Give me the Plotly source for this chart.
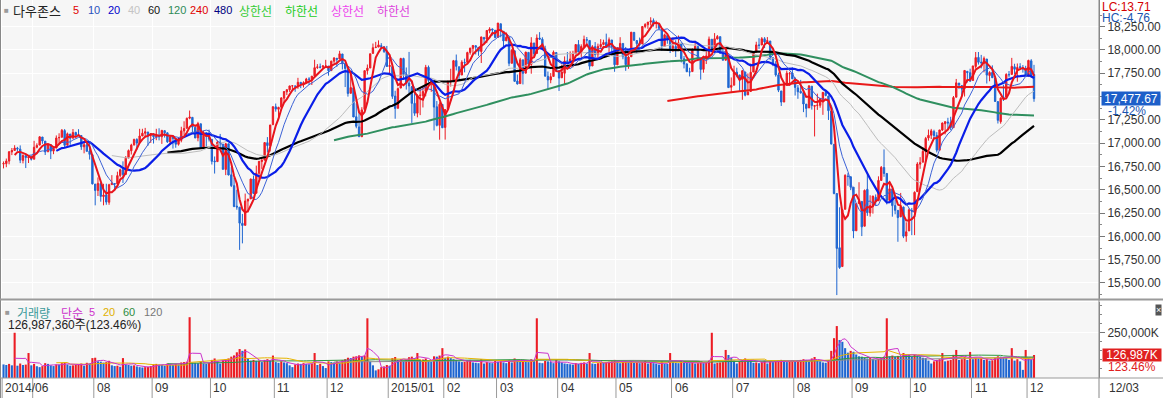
import pandas as pd
import plotly.graph_objects as go

# ---------------- data (Dow Jones daily, 2014-06-16 .. 2015-12-03) ----------------
months = ["2014-06", "2014-07", "2014-08", "2014-09", "2014-10", "2014-11", "2014-12",
          "2015-01", "2015-02", "2015-03", "2015-04", "2015-05", "2015-06", "2015-07",
          "2015-08", "2015-09", "2015-10", "2015-11", "2015-12"]
month_days = [
    [16, 17, 18, 19, 20, 23, 24, 25, 26, 27, 30],
    [1, 2, 3, 7, 8, 9, 10, 11, 14, 15, 16, 17, 18, 21, 22, 23, 24, 25, 28, 29, 30, 31],
    [1, 4, 5, 6, 7, 8, 11, 12, 13, 14, 15, 18, 19, 20, 21, 22, 25, 26, 27, 28, 29],
    [2, 3, 4, 5, 8, 9, 10, 11, 12, 15, 16, 17, 18, 19, 22, 23, 24, 25, 26, 29, 30],
    [1, 2, 3, 6, 7, 8, 9, 10, 13, 14, 15, 16, 17, 20, 21, 22, 23, 24, 27, 28, 29, 30, 31],
    [3, 4, 5, 6, 7, 10, 11, 12, 13, 14, 17, 18, 19, 20, 21, 24, 25, 26, 28],
    [1, 2, 3, 4, 5, 8, 9, 10, 11, 12, 15, 16, 17, 18, 19, 22, 23, 24, 26, 29, 30, 31],
    [2, 5, 6, 7, 8, 9, 12, 13, 14, 15, 16, 20, 21, 22, 23, 26, 27, 28, 29, 30],
    [2, 3, 4, 5, 6, 9, 10, 11, 12, 13, 17, 18, 19, 20, 23, 24, 25, 26, 27],
    [2, 3, 4, 5, 6, 9, 10, 11, 12, 13, 16, 17, 18, 19, 20, 23, 24, 25, 26, 27, 30, 31],
    [1, 2, 6, 7, 8, 9, 10, 13, 14, 15, 16, 17, 20, 21, 22, 23, 24, 27, 28, 29, 30],
    [1, 4, 5, 6, 7, 8, 11, 12, 13, 14, 15, 18, 19, 20, 21, 22, 26, 27, 28, 29],
    [1, 2, 3, 4, 5, 8, 9, 10, 11, 12, 15, 16, 17, 18, 19, 22, 23, 24, 25, 26, 29, 30],
    [1, 2, 6, 7, 8, 9, 10, 13, 14, 15, 16, 17, 20, 21, 22, 23, 24, 27, 28, 29, 30, 31],
    [3, 4, 5, 6, 7, 10, 11, 12, 13, 14, 17, 18, 19, 20, 21, 24, 25, 26, 27, 28, 31],
    [1, 2, 3, 4, 8, 9, 10, 11, 14, 15, 16, 17, 18, 21, 22, 23, 24, 25, 28, 29, 30],
    [1, 2, 5, 6, 7, 8, 9, 12, 13, 14, 15, 16, 19, 20, 21, 22, 23, 26, 27, 28, 29, 30],
    [2, 3, 4, 5, 6, 9, 10, 11, 12, 13, 16, 17, 18, 19, 20, 23, 24, 25, 27, 30],
    [1, 2, 3],
]

opens = [
    16776, 16780, 16808, 16906, 16921, 16946, 16936, 16815, 16866, 16844, 16852,
    16828, 16956, 16979, 17066, 17022, 16907, 16983, 16915, 16947, 17057, 17063, 17135, 16978, 17098, 17053, 17115, 17088, 17082, 16961, 16983, 16915, 16876,
    16561, 16493, 16567, 16427, 16446, 16366, 16555, 16567, 16563, 16652, 16715, 16665, 16840, 16918, 16979, 17039, 17004, 17077, 17107, 17120, 17082,
    17097, 17069, 17079, 17069, 17134, 17111, 17014, 17068, 17048, 16988, 17030, 17131, 17159, 17268, 17277, 17170, 17057, 17208, 16946, 17111, 17072,
    17041, 16808, 16802, 17010, 16990, 16718, 16993, 16660, 16544, 16324, 16313, 16140, 16118, 16379, 16402, 16615, 16463, 16677, 16803, 16818, 17005, 16972, 17198,
    17390, 17364, 17386, 17483, 17551, 17573, 17614, 17612, 17613, 17653, 17635, 17647, 17687, 17686, 17721, 17812, 17816, 17816, 17828,
    17827, 17778, 17880, 17911, 17903, 17957, 17849, 17800, 17535, 17593, 17283, 17174, 17069, 17362, 17778, 17806, 17963, 18025, 18031, 18046, 18035, 17987,
    17823, 17821, 17505, 17374, 17591, 17908, 17740, 17645, 17607, 17427, 17322, 17511, 17509, 17556, 17814, 17668, 17676, 17390, 17191, 17416,
    17169, 17363, 17664, 17673, 17886, 17820, 17731, 17866, 17867, 17973, 18017, 18046, 18028, 17984, 18135, 18117, 18206, 18225, 18211,
    18134, 18281, 18200, 18098, 18135, 17857, 17991, 17666, 17639, 17894, 17751, 17974, 17845, 18075, 17963, 18128, 18115, 18012, 17717, 17679, 17716, 17973,
    17778, 17702, 17750, 17883, 17876, 17903, 17958, 18058, 17979, 18037, 18110, 18102, 17828, 18035, 17950, 18037, 18059, 18082, 18040, 18107, 18034,
    17840, 18025, 18070, 17931, 17839, 17927, 18189, 18101, 18067, 18064, 18252, 18271, 18300, 18315, 18283, 18282, 18229, 18039, 18154, 18125,
    18018, 18037, 18016, 18073, 17906, 17850, 17765, 17768, 18004, 18038, 17892, 17792, 17906, 17932, 18115, 18026, 18118, 18143, 17967, 17890, 17932, 17600,
    17622, 17762, 17732, 17684, 17764, 17518, 17554, 17763, 17975, 18053, 18053, 18120, 18090, 18096, 17918, 17850, 17732, 17560, 17441, 17629, 17744, 17753,
    17690, 17593, 17555, 17542, 17419, 17378, 17611, 17396, 17405, 17406, 17467, 17543, 17505, 17345, 16988, 16460, 15878, 15676, 16290, 16646, 16640,
    16528, 16060, 16352, 16375, 16109, 16505, 16252, 16330, 16419, 16382, 16600, 16739, 16675, 16386, 16509, 16330, 16279, 16209, 16314, 16003, 16058,
    16278, 16258, 16480, 16775, 16796, 16908, 17056, 17085, 17124, 17083, 16925, 17141, 17209, 17227, 17220, 17166, 17493, 17645, 17618, 17586, 17771, 17756,
    17673, 17823, 17920, 17869, 17856, 17903, 17726, 17759, 17700, 17446, 17231, 17496, 17493, 17738, 17738, 17820, 17785, 17821, 17806, 17802,
    17719, 17883, 17737,
]
highs = [
    16804, 16835, 16916, 16948, 16978, 16960, 16976, 16880, 16866, 16853, 16869,
    17025, 16999, 17074, 17066, 17022, 16993, 16983, 16961, 17083, 17106, 17152, 17151, 17114, 17098, 17152, 17122, 17150, 17082, 17003, 17029, 17011, 16876,
    16562, 16632, 16567, 16564, 16565, 16564, 16657, 16568, 16694, 16727, 16805, 16862, 16932, 16994, 17049, 17053, 17154, 17154, 17164, 17120, 17107,
    17106, 17154, 17160, 17142, 17138, 17116, 17076, 17068, 17048, 17063, 17176, 17235, 17275, 17350, 17277, 17170, 17229, 17208, 17133, 17111, 17145,
    17041, 16857, 17028, 17099, 16990, 17003, 16993, 16743, 16627, 16501, 16313, 16241, 16459, 16402, 16620, 16653, 16759, 16805, 16836, 17009, 17065, 17196, 17395,
    17425, 17390, 17493, 17556, 17577, 17616, 17624, 17612, 17701, 17653, 17664, 17701, 17708, 17720, 17895, 17848, 17854, 17838, 17894,
    17827, 17884, 17924, 17911, 17991, 17957, 17849, 17800, 17758, 17593, 17428, 17348, 17386, 17778, 17844, 17959, 18069, 18087, 18103, 18073, 18035, 18043,
    17951, 17821, 17562, 17597, 17916, 17917, 17812, 17979, 17607, 17540, 17525, 17589, 17612, 17840, 17833, 17686, 17676, 17452, 17439, 17416,
    17363, 17666, 17798, 17893, 17951, 17820, 17890, 17907, 17981, 18025, 18053, 18046, 18030, 18141, 18136, 18212, 18244, 18230, 18214,
    18289, 18281, 18200, 18188, 18135, 18010, 17991, 17736, 17915, 17894, 17980, 17974, 18137, 18075, 18167, 18191, 18136, 18045, 17769, 17752, 17994, 17973,
    17778, 17843, 17931, 17978, 17985, 17991, 18058, 18106, 18060, 18154, 18139, 18102, 18052, 18085, 18068, 18116, 18110, 18175, 18134, 18107, 18034,
    18025, 18137, 18070, 18032, 17941, 18191, 18189, 18101, 18133, 18252, 18288, 18300, 18351, 18338, 18314, 18282, 18229, 18175, 18154, 18125,
    18134, 18104, 18155, 18073, 17935, 17858, 17809, 18017, 18098, 18038, 17892, 17934, 17985, 18144, 18115, 18181, 18160, 18143, 18036, 17993, 17932, 17705,
    17831, 17810, 17732, 17784, 17764, 17748, 17854, 17982, 18088, 18126, 18138, 18138, 18138, 18096, 17918, 17880, 17757, 17560, 17640, 17779, 17764, 17813,
    17707, 17624, 17679, 17542, 17419, 17618, 17611, 17405, 17531, 17486, 17546, 17571, 17511, 17345, 16988, 16460, 16312, 16290, 16666, 16678, 16640,
    16528, 16357, 16581, 16375, 16503, 16664, 16441, 16434, 16450, 16644, 16755, 16933, 16675, 16585, 16509, 16393, 16279, 16466, 16320, 16151, 16300,
    16305, 16483, 16796, 16850, 16956, 17067, 17146, 17153, 17144, 17118, 17142, 17221, 17232, 17272, 17283, 17506, 17689, 17645, 17618, 17782, 17771, 17799,
    17829, 17978, 17978, 17947, 17930, 17903, 17772, 17835, 17700, 17446, 17491, 17627, 17750, 17774, 17915, 17852, 17855, 17858, 17838, 17830,
    17895, 17901, 17840,
]
lows = [
    16729, 16742, 16773, 16872, 16921, 16910, 16786, 16783, 16733, 16787, 16814,
    16828, 16945, 16979, 16993, 16873, 16907, 16829, 16882, 16947, 16997, 17063, 16955, 16978, 16982, 17053, 17065, 17074, 16928, 16891, 16911, 16824, 16557,
    16333, 16433, 16372, 16333, 16339, 16339, 16555, 16493, 16563, 16632, 16573, 16665, 16840, 16878, 16979, 16928, 17004, 17077, 17073, 16972, 17003,
    16996, 17032, 17030, 16992, 17060, 17003, 16983, 16942, 16951, 16974, 17009, 17089, 17159, 17256, 17118, 17054, 17020, 16938, 16946, 16967, 17018,
    16771, 16674, 16802, 16947, 16716, 16657, 16654, 16529, 16313, 16286, 15855, 15925, 16118, 16255, 16402, 16456, 16463, 16613, 16723, 16818, 16900, 16910, 17198,
    17338, 17264, 17386, 17431, 17516, 17550, 17578, 17551, 17583, 17590, 17597, 17647, 17625, 17624, 17721, 17796, 17802, 17803, 17813,
    17724, 17778, 17855, 17819, 17903, 17791, 17602, 17499, 17535, 17280, 17160, 17067, 17069, 17362, 17736, 17806, 17963, 18025, 18031, 18021, 17968, 17820,
    17731, 17475, 17262, 17374, 17591, 17680, 17575, 17535, 17217, 17293, 17277, 17301, 17383, 17502, 17654, 17551, 17136, 17180, 17037, 17164,
    17038, 17363, 17607, 17673, 17780, 17684, 17731, 17760, 17867, 17950, 17957, 17952, 17937, 17860, 18064, 18073, 18179, 18154, 18125,
    18134, 18136, 18027, 18098, 17826, 17857, 17662, 17630, 17639, 17630, 17751, 17810, 17745, 17935, 17963, 18107, 18011, 17716, 17579, 17643, 17716, 17765,
    17560, 17698, 17635, 17875, 17863, 17814, 17958, 17976, 17925, 18037, 18069, 17788, 17828, 17924, 17910, 18015, 18050, 18025, 17945, 17941, 17766,
    17840, 18025, 17900, 17776, 17798, 17927, 18095, 17970, 18036, 18064, 18233, 18227, 18261, 18252, 18231, 18216, 17991, 18039, 18067, 17967,
    17979, 17925, 18016, 17866, 17802, 17762, 17716, 17768, 18004, 17880, 17682, 17756, 17849, 17932, 17996, 18026, 18113, 17960, 17888, 17890, 17593, 17550,
    17622, 17707, 17561, 17465, 17502, 17518, 17554, 17763, 17975, 18011, 18053, 18020, 18070, 17891, 17826, 17714, 17548, 17399, 17441, 17629, 17618, 17689,
    17511, 17476, 17531, 17333, 17277, 17378, 17360, 17072, 17357, 17380, 17304, 17502, 17249, 16986, 16451, 15370, 15651, 15676, 16290, 16543, 16496,
    15980, 16060, 16352, 16003, 16109, 16220, 16212, 16244, 16330, 16382, 16600, 16639, 16343, 16386, 16211, 16237, 15942, 16209, 15981, 15942, 16058,
    16013, 16013, 16480, 16725, 16796, 16796, 17027, 17044, 17041, 16900, 16925, 17131, 17094, 17149, 17140, 17166, 17493, 17580, 17511, 17500, 17651, 17663,
    17670, 17800, 17843, 17802, 17760, 17640, 17664, 17701, 17444, 17211, 17209, 17453, 17493, 17706, 17738, 17739, 17659, 17793, 17757, 17720,
    17719, 17700, 17444,
]
closes = [
    16781, 16808, 16907, 16921, 16947, 16937, 16818, 16868, 16846, 16852, 16827,
    16956, 16976, 17068, 17024, 16906, 16985, 16915, 16944, 17055, 17061, 17138, 16977, 17100, 17052, 17114, 17087, 17084, 16961, 16983, 16912, 16880, 16563,
    16493, 16569, 16429, 16443, 16368, 16554, 16570, 16561, 16652, 16714, 16663, 16839, 16920, 16979, 17039, 17001, 17077, 17107, 17122, 17080, 17098,
    17068, 17078, 17070, 17137, 17111, 17014, 17069, 17049, 16988, 17031, 17132, 17157, 17266, 17280, 17173, 17056, 17210, 16946, 17113, 17071, 17043,
    16805, 16801, 17010, 16992, 16719, 16994, 16659, 16544, 16321, 16315, 16142, 16117, 16380, 16400, 16615, 16461, 16678, 16805, 16818, 17006, 16974, 17195, 17391,
    17366, 17384, 17485, 17554, 17574, 17614, 17615, 17612, 17653, 17635, 17648, 17688, 17686, 17719, 17810, 17818, 17815, 17828, 17828,
    17777, 17880, 17913, 17900, 17959, 17852, 17801, 17533, 17596, 17281, 17181, 17069, 17357, 17778, 17805, 17959, 18024, 18030, 18054, 18038, 17983, 17823,
    17833, 17502, 17372, 17585, 17908, 17737, 17641, 17614, 17427, 17321, 17512, 17515, 17554, 17814, 17673, 17679, 17387, 17191, 17417, 17165,
    17361, 17666, 17673, 17885, 17824, 17729, 17869, 17862, 17972, 18019, 18048, 18030, 17986, 18140, 18117, 18209, 18225, 18214, 18133,
    18289, 18203, 18097, 18136, 17857, 17996, 17663, 17635, 17895, 17749, 17977, 17849, 18076, 17959, 18128, 18116, 18011, 17719, 17678, 17713, 17976, 17776,
    17698, 17763, 17881, 17875, 17903, 17959, 18058, 17977, 18037, 18113, 18106, 17826, 18035, 17950, 18038, 18059, 18080, 18038, 18110, 18036, 17841,
    18024, 18070, 17928, 17842, 17924, 18191, 18105, 18068, 18060, 18252, 18273, 18299, 18312, 18285, 18286, 18232, 18042, 18163, 18126, 18011,
    18040, 18012, 18076, 17906, 17849, 17767, 17764, 18000, 18039, 17899, 17791, 17904, 17936, 18116, 18016, 18120, 18144, 17966, 17890, 17947, 17596, 17620,
    17758, 17730, 17684, 17777, 17515, 17549, 17760, 17978, 18054, 18050, 18120, 18086, 18100, 17919, 17851, 17732, 17569, 17441, 17630, 17751, 17746, 17690,
    17598, 17551, 17540, 17420, 17373, 17615, 17403, 17403, 17408, 17477, 17545, 17511, 17349, 16991, 16460, 15871, 15666, 16286, 16655, 16643, 16528,
    16058, 16351, 16375, 16102, 16493, 16254, 16330, 16433, 16371, 16600, 16740, 16675, 16385, 16510, 16330, 16280, 16201, 16315, 16002, 16049, 16285,
    16272, 16472, 16776, 16790, 16912, 17051, 17084, 17132, 17082, 16925, 17142, 17216, 17231, 17217, 17169, 17489, 17647, 17623, 17581, 17780, 17756, 17664,
    17829, 17918, 17868, 17863, 17910, 17730, 17758, 17702, 17448, 17245, 17483, 17490, 17737, 17733, 17824, 17793, 17812, 17813, 17798, 17720,
    17888, 17729.68, 17477.67,
]
# volume in thousands of shares
volumes_k = [
    75000, 72000, 78000, 70000, 250000, 68000, 80000, 72000, 74000, 138000, 70000,
    78000, 65000, 60000, 66000, 82000, 78000, 70000, 66000, 75000, 74000, 82000, 86000, 75000, 68000, 70000, 72000, 76000, 80000, 68000, 84000, 80000, 110000,
    112000, 92000, 90000, 85000, 88000, 95000, 70000, 66000, 68000, 62000, 110000, 74000, 72000, 68000, 70000, 64000, 60000, 58000, 60000, 62000, 66000,
    76000, 78000, 74000, 72000, 68000, 80000, 76000, 72000, 78000, 74000, 86000, 88000, 90000, 336000, 85000, 84000, 82000, 92000, 80000, 78000, 84000,
    100000, 108000, 92000, 80000, 98000, 105000, 108000, 118000, 125000, 142000, 160000, 150000, 158000, 110000, 96000, 100000, 95000, 96000, 88000, 100000, 104000, 98000, 124000,
    88000, 84000, 92000, 86000, 82000, 70000, 60000, 75000, 80000, 78000, 82000, 78000, 76000, 80000, 138000, 72000, 78000, 66000, 55000,
    92000, 88000, 86000, 92000, 84000, 98000, 104000, 112000, 110000, 118000, 120000, 125000, 120000, 124000, 330000, 90000, 70000, 42000, 48000, 60000, 64000, 72000,
    68000, 110000, 116000, 100000, 104000, 96000, 100000, 115000, 118000, 110000, 138000, 100000, 102000, 108000, 95000, 90000, 120000, 118000, 124000, 165000,
    112000, 118000, 110000, 104000, 100000, 92000, 88000, 90000, 96000, 100000, 86000, 84000, 82000, 104000, 80000, 88000, 84000, 82000, 98000,
    90000, 92000, 86000, 82000, 100000, 86000, 108000, 98000, 95000, 96000, 90000, 88000, 104000, 96000, 330000, 84000, 82000, 94000, 92000, 90000, 82000, 100000,
    92000, 86000, 80000, 78000, 76000, 74000, 82000, 78000, 84000, 86000, 80000, 138000, 80000, 78000, 82000, 86000, 84000, 88000, 90000, 92000, 100000,
    92000, 82000, 88000, 92000, 88000, 96000, 84000, 86000, 82000, 88000, 96000, 80000, 84000, 82000, 80000, 74000, 92000, 80000, 78000, 138000,
    88000, 84000, 82000, 90000, 86000, 84000, 82000, 90000, 80000, 82000, 86000, 82000, 84000, 96000, 250000, 80000, 84000, 86000, 88000, 155000, 127000, 110000,
    96000, 80000, 92000, 100000, 108000, 100000, 96000, 84000, 86000, 82000, 88000, 96000, 80000, 92000, 88000, 94000, 98000, 100000, 96000, 88000, 90000, 96000,
    92000, 96000, 100000, 104000, 100000, 92000, 108000, 116000, 96000, 92000, 86000, 84000, 98000, 150000, 220000, 287000, 210000, 200000, 165000, 140000, 150000,
    145000, 130000, 120000, 118000, 112000, 108000, 110000, 104000, 100000, 106000, 112000, 118000, 330000, 120000, 124000, 118000, 122000, 116000, 138000, 130000, 128000,
    120000, 128000, 124000, 118000, 112000, 110000, 96000, 80000, 92000, 100000, 104000, 138000, 92000, 96000, 100000, 128000, 155000, 100000, 104000, 118000, 100000, 144000,
    104000, 112000, 108000, 110000, 100000, 104000, 96000, 98000, 112000, 120000, 118000, 116000, 112000, 100000, 165000, 96000, 104000, 92000, 45000, 155000,
    110000, 102857, 126987.36,
]

ma_periods = [5, 10, 20, 40, 60, 120, 240, 480]
vol_ma_periods = [5, 20, 60, 120]

# ---------------- styling ----------------
UP = "#ec1c24"
DN = "#1f66d1"
ma_colors = ["#e8141c", "#3c62d6", "#0a1ee8", "#bdbdbd", "#000000", "#2f8f5f", "#e81818", "#000080"]
ma_widths = [2, 1, 2.2, 1, 2.2, 2, 2, 2]
vol_ma_colors = ["#cc33cc", "#e6b400", "#2e9a3e", "#8c8c8c"]
GRID = "#ffffff"
NUM = "Liberation Sans, Arial, sans-serif"
KOR = "Noto Sans CJK KR, sans-serif"

dates = [f"{m}-{d:02d}" for m, ds in zip(months, month_days) for d in ds]
n = len(dates)
for name, arr in [("opens", opens), ("highs", highs), ("lows", lows), ("closes", closes), ("volumes", volumes_k)]:
    if len(arr) != n:
        raise ValueError(f"{name} has {len(arr)} values, expected {n}")
xi = list(range(n))

W, H = 1163, 398
ML, MR, MT, MB = 2, 64, 0, 20
PW, PH = W - ML - MR, H - MT - MB


def px(x):
    return (x - ML) / PW


def py(y):
    return (H - MB - y) / PH


xr = [-0.55, n - 1 + 23.4]


def xpaper(v):
    return (v - xr[0]) / (xr[1] - xr[0])


fig = go.Figure()

# candles
fig.add_trace(go.Candlestick(
    x=xi, open=opens, high=highs, low=lows, close=closes, xaxis="x", yaxis="y",
    increasing=dict(line=dict(color=UP, width=1), fillcolor=UP),
    decreasing=dict(line=dict(color=DN, width=1), fillcolor=DN),
    whiskerwidth=0, showlegend=False, hoverinfo="skip"))

cs = pd.Series(closes, dtype=float)
for p, c, w in reversed(list(zip(ma_periods, ma_colors, ma_widths))):
    fig.add_trace(go.Scatter(x=xi, y=cs.rolling(p).mean(), mode="lines",
                             line=dict(color=c, width=w), xaxis="x", yaxis="y",
                             showlegend=False, hoverinfo="skip"))

# volume
vcolors = [DN if i == 0 or volumes_k[i] < volumes_k[i - 1] else UP for i in range(n)]
fig.add_trace(go.Bar(x=xi, y=volumes_k, marker=dict(color=vcolors, line=dict(width=0)),
                     xaxis="x2", yaxis="y2", showlegend=False, hoverinfo="skip"))
vs = pd.Series(volumes_k, dtype=float)
for p, c in reversed(list(zip(vol_ma_periods, vol_ma_colors))):
    fig.add_trace(go.Scatter(x=xi, y=vs.rolling(p).mean(), mode="lines",
                             line=dict(color=c, width=1), xaxis="x2", yaxis="y2",
                             showlegend=False, hoverinfo="skip"))

month_starts = [i for i in range(n) if i == 0 or dates[i][:7] != dates[i - 1][:7]]
grid_x = [i - 0.5 for i in month_starts]
common_x = dict(range=xr, tickmode="array", tickvals=grid_x, showticklabels=False,
                showgrid=True, gridcolor=GRID, gridwidth=1, zeroline=False, ticks="",
                showline=False, fixedrange=True)
price_ticks = list(range(15500, 18251, 250))
price_minor = [v + 125 for v in range(15250, 18251, 250)]
vol_minor = list(range(50000, 420001, 50000))

fig.update_layout(
    width=W, height=H, margin=dict(l=ML, r=MR, t=MT, b=MB),
    paper_bgcolor="white", plot_bgcolor="#f6f6f6",
    bargap=0.25, hovermode=False, showlegend=False,
    font=dict(family=NUM, size=12, color="#333"),
    xaxis=dict(**common_x, domain=[0, 1], anchor="y", rangeslider=dict(visible=False)),
    xaxis2=dict(**common_x, domain=[0, 1], anchor="y2"),
    yaxis=dict(domain=[py(299), 1], anchor="x", side="right", range=[15328, 18536],
               tickmode="array", tickvals=price_ticks, tickformat=",.2f",
               ticks="outside", ticklen=5, tickcolor="#777", showline=True,
               linecolor="#888", linewidth=1, showgrid=True, gridcolor=GRID,
               zeroline=False, fixedrange=True,
               tickfont=dict(family=NUM, size=12, color="#333"),
               minor=dict(tickmode="array", tickvals=price_minor, ticks="outside",
                          ticklen=2, tickcolor="#888", showgrid=False)),
    yaxis2=dict(domain=[0, py(302)], anchor="x2", side="right", range=[0, 420000],
                tickmode="array", tickvals=[250000], ticktext=["250,000K"],
                ticks="outside", ticklen=5, tickcolor="#777", showline=True,
                linecolor="#888", linewidth=1, showgrid=True, gridcolor=GRID,
                zeroline=False, fixedrange=True,
                tickfont=dict(family=NUM, size=12, color="#333"),
                minor=dict(tickmode="array", tickvals=vol_minor, ticks="outside",
                           ticklen=2, tickcolor="#888", showgrid=False)),
)

ann = []


def txt(text, x, y, color, size=12, family=NUM, xanchor="left", **kw):
    d = dict(text=text, x=px(x), y=py(y), xref="paper", yref="paper",
             xanchor=xanchor, yanchor="middle", showarrow=False,
             font=dict(color=color, size=size, family=family))
    d.update(kw)
    ann.append(d)


# price legend
txt("■", 2, 10, "#9a9a9a", size=8)
txt("다우존스", 11, 10, "#222", size=13, family=KOR)
legend_items = [("5", "#e00000", 71), ("10", "#2a52be", 86), ("20", "#0000cc", 106),
                ("40", "#c4c4c4", 126), ("60", "#111111", 146), ("120", "#2e8b57", 166),
                ("240", "#e00000", 188), ("480", "#000080", 212)]
for t, c, x in legend_items:
    txt(t, x, 10, c, size=11)
for t, c, x in [("상한선", "#33cc33", 237), ("하한선", "#22cc22", 283),
                ("상한선", "#ee44ee", 329), ("하한선", "#dd44dd", 375)]:
    txt(t, x, 10, c, size=12, family=KOR)

# volume legend
txt("■", 3, 312, "#9a9a9a", size=8)
txt("거래량", 15, 312, "#3a9a9a", size=12, family=KOR)
txt("단순", 59, 312, "#cc33cc", size=12, family=KOR)
txt("5", 87, 312, "#cc33cc", size=11)
txt("20", 101, 312, "#e0b000", size=11)
txt("60", 121, 312, "#2e8b3e", size=11)
txt("120", 142, 312, "#777777", size=11)
last_v = volumes_k[-1]
v_pct = last_v / volumes_k[-2] * 100
txt(f"{round(last_v * 1000):,}주({v_pct:.2f}%)", 6, 325, "#222", size=12, family=NUM + ", " + KOR)

# right side info
last_c = closes[-1]
lc = (last_c / min(lows) - 1) * 100
hc = (last_c / max(highs) - 1) * 100
chg = (last_c / closes[-2] - 1) * 100
txt(f"LC:{lc:.2f}", 1100, 7, "#d40000")
txt(f"HC:{hc:.2f}", 1100, 18, "#1a55b0")
ann.append(dict(text=f"{last_c:,.2f}", x=1.0, y=last_c, xref="paper", yref="y",
                xanchor="left", yanchor="middle", xshift=2, showarrow=False,
                bgcolor="#1d5fc9", width=58, height=13, align="center", borderpad=0,
                font=dict(color="white", size=12, family=NUM)))
ann.append(dict(text=f"{chg:.2f}%", x=1.0, y=last_c, xref="paper", yref="y",
                xanchor="left", yanchor="middle", xshift=7, yshift=-12, showarrow=False,
                font=dict(color="#1a55b0", size=12, family=NUM)))
ann.append(dict(text=f"{last_v:,.0f}K", x=1.0, y=last_v, xref="paper", yref="y2",
                xanchor="left", yanchor="middle", xshift=3, showarrow=False,
                bgcolor="#e02020", width=58, height=12, align="center", borderpad=0,
                font=dict(color="white", size=12, family=NUM)))
ann.append(dict(text=f"{v_pct:.2f}%", x=1.0, y=last_v, xref="paper", yref="y2",
                xanchor="left", yanchor="middle", xshift=7, yshift=-12, showarrow=False,
                font=dict(color="#e02020", size=12, family=NUM)))
txt("×", 1158, 310, "white", size=9, xanchor="center", bgcolor="#555555", borderpad=0)

# x labels
prev = None
for i in month_starts:
    y4, mm = dates[i][:4], dates[i][5:7]
    if prev is not None and i - prev < 15:
        continue
    label = f"{y4}/{mm}" if (i == 0 or mm == "01") else mm
    ann.append(dict(text=label, x=xpaper(i - 0.5), y=py(388), xref="paper", yref="paper",
                    xanchor="left", yanchor="middle", xshift=1, showarrow=False,
                    font=dict(color="#333", size=12, family=NUM)))
    prev = i
last_label = dates[-1][5:7] + "/" + dates[-1][8:10]
txt(last_label, 1107, 388, "#333")

shapes = []
LINE = "#9a9a9a"
for i in month_starts:
    xp = xpaper(i - 0.5)
    shapes.append(dict(type="line", xref="paper", yref="paper", x0=xp, x1=xp,
                       y0=py(398), y1=0, line=dict(color=LINE, width=1)))
shapes += [
    dict(type="line", xref="paper", yref="paper", x0=px(0.5), x1=px(0.5), y0=py(398), y1=1,
         line=dict(color="#888", width=1)),
    dict(type="line", xref="paper", yref="paper", x0=1.0, x1=1.0, y0=py(398), y1=1,
         line=dict(color="#888", width=1)),
    dict(type="line", xref="paper", yref="paper", x0=px(0), x1=px(W), y0=py(299.5), y1=py(299.5),
         line=dict(color="#9a9a9a", width=2)),
    dict(type="line", xref="paper", yref="paper", x0=px(0), x1=px(W), y0=0, y1=0,
         line=dict(color=LINE, width=1)),
]

fig.update_layout(annotations=ann, shapes=shapes)
fig.write_html("out.html")
